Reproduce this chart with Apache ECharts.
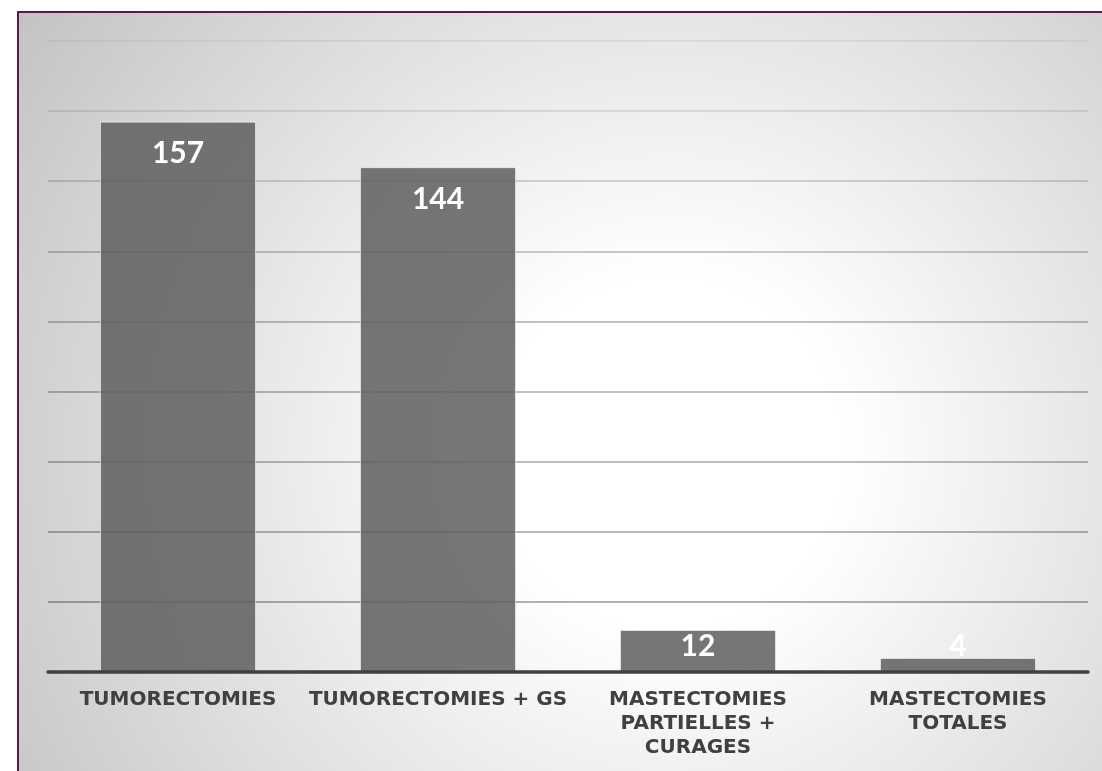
<!DOCTYPE html>
<html>
<head>
<meta charset="utf-8">
<script src="https://cdn.jsdelivr.net/npm/echarts@6/dist/echarts.min.js"></script>
<style>
  html, body { margin: 0; padding: 0; background: #ffffff; width: 1102px; height: 771px; overflow: hidden; }
  #frame { position: absolute; left: 17px; top: 11px; width: 1100px; height: 780px;
           border-top: 2px solid #5e1a47; border-left: 2px solid #5e1a47; box-sizing: border-box; }
  #chart { position: absolute; left: 19px; top: 13px; width: 1083px; height: 758px; }
</style>
</head>
<body>
<div id="frame"></div>
<div id="chart"></div>
<script>
const categories = ['TUMORECTOMIES', 'TUMORECTOMIES + GS', 'MASTECTOMIES\nPARTIELLES +\nCURAGES', 'MASTECTOMIES\nTOTALES'];
const values = [157, 144, 12, 4];
const yMin = 0;
const yMax = 180;
const yInterval = 20;

const chart = echarts.init(document.getElementById('chart'));

const seriesData = values.map(function (v) {
  const shortBar = v < 30;
  return {
    value: v,
    label: shortBar
      ? { position: 'insideBottom', distance: 11 }
      : { position: 'insideTop', distance: 17 }
  };
});

// gridline shade fades toward the top (style only)
const gridAlphas = [0.3, 0.3, 0.28, 0.26, 0.25, 0.23, 0.2, 0.15, 0.09, 0.05];
const gridColors = gridAlphas.map(function (a) { return 'rgba(0,0,0,' + a + ')'; });

chart.setOption({
  backgroundColor: {
    type: 'radial', x: 0.6, y: 0.58, r: 1.05,
    colorStops: [
      { offset: 0, color: '#ffffff' },
      { offset: 0.22, color: '#ffffff' },
      { offset: 1, color: '#c2c2c2' }
    ]
  },
  animation: false,
  grid: { left: 29, right: 14, top: 28, bottom: 99, containLabel: false },
  xAxis: {
    type: 'category',
    data: categories,
    z: 3,
    axisLine: { show: true, lineStyle: { color: '#404040', width: 3.5 } },
    axisTick: { show: false },
    axisLabel: {
      interval: 0,
      margin: 16,
      color: '#404040',
      fontFamily: 'DejaVu Sans',
      fontWeight: 'bold',
      fontSize: 20,
      lineHeight: 24,
      align: 'center'
    }
  },
  yAxis: {
    type: 'value',
    min: yMin,
    max: yMax,
    interval: yInterval,
    axisLine: { show: false },
    axisTick: { show: false },
    axisLabel: { show: false },
    splitLine: { show: true, lineStyle: { color: gridColors, width: 2 } }
  },
  series: [{
    type: 'bar',
    data: seriesData,
    barWidth: '60%',
    itemStyle: { color: 'rgba(96,96,96,0.86)', borderColor: 'rgba(255,255,255,0.55)', borderWidth: 1 },
    label: {
      show: true,
      color: '#ffffff',
      fontFamily: 'Lato',
      fontWeight: 'bold',
      fontSize: 30
    }
  }]
});
</script>
</body>
</html>
